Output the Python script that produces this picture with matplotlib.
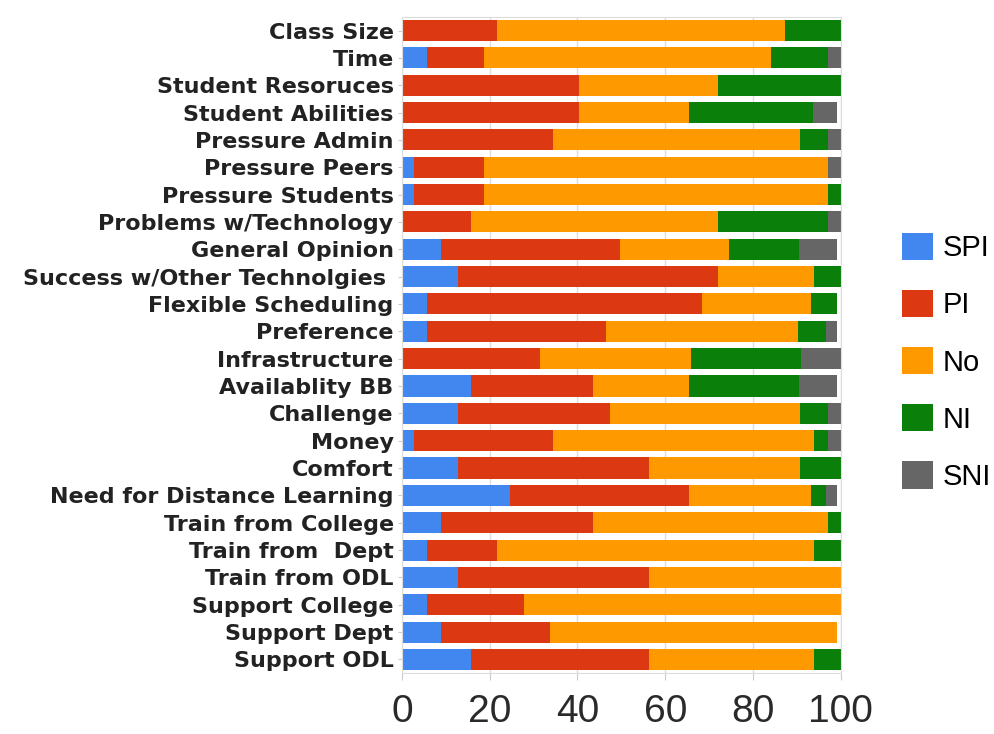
import numpy as np
import matplotlib
matplotlib.use("Agg")
from matplotlib import pyplot as plt

# survey items, top to bottom
items = ["Class Size", "Time", "Student Resoruces", "Student Abilities",
         "Pressure Admin", "Pressure Peers", "Pressure Students",
         "Problems w/Technology", "General Opinion",
         "Success w/Other Technolgies ", "Flexible Scheduling", "Preference",
         "Infrastructure", "Availablity BB", "Challenge", "Money", "Comfort",
         "Need for Distance Learning", "Train from College",
         "Train from  Dept", "Train from ODL", "Support College",
         "Support Dept", "Support ODL"]

# percent of responses per answer
spi = [0, 5.8, 0, 0, 0, 2.8, 2.8, 0, 9.0, 12.7, 5.7, 5.7,
       0, 15.7, 12.8, 2.8, 12.8, 24.6, 8.9, 5.7, 12.8, 5.7, 8.9, 15.7]
pi = [21.7, 12.9, 40.4, 40.4, 34.5, 15.9, 15.9, 15.7, 40.6, 59.4, 62.6, 40.9,
      31.4, 27.9, 34.5, 31.7, 43.4, 40.9, 34.7, 16.0, 43.4, 22.0, 24.8, 40.5]
no = [65.7, 65.5, 31.7, 24.9, 56.3, 78.3, 78.3, 56.3, 25.0, 21.8, 25.0, 43.7,
      34.5, 21.9, 43.5, 59.4, 34.6, 27.7, 53.4, 72.2, 43.8, 72.3, 65.5, 37.7]
ni = [12.6, 12.8, 27.9, 28.3, 6.2, 0, 3.0, 25.0, 15.9, 6.1, 5.9, 6.3,
      25.0, 25.0, 6.2, 3.1, 9.2, 3.4, 3.0, 6.1, 0, 0, 0, 6.1]
sni = [0, 3.0, 0, 5.6, 3.0, 3.0, 0, 3.0, 8.7, 0, 0, 2.6,
       9.1, 8.7, 3.0, 3.0, 0, 2.6, 0, 0, 0, 0, 0, 0]

series = [("SPI", spi, "#4287ef"), ("PI", pi, "#dc3912"),
          ("No", no, "#ff9900"), ("NI", ni, "#0a7f0a"),
          ("SNI", sni, "#666666")]

fig = plt.figure(figsize=(9.95, 7.34), dpi=100)
ax = fig.add_axes([0.404, 0.083, 0.441, 0.894])

y = np.arange(len(items))
left = np.zeros(len(items))
for name, vals, col in series:
    vals = np.array(vals)
    ax.barh(y, vals, left=left, height=0.77, color=col, label=name, zorder=2)
    left += vals

ax.set_ylim(len(items) - 0.5, -0.5)
ax.set_xlim(0, 100)
ax.set_xticks([0, 20, 40, 60, 80, 100])
ax.set_yticks(y)
ax.set_yticklabels(items, fontsize=16, fontweight="bold", color="#222222",
                   family="DejaVu Sans")
ax.tick_params(axis="x", labelsize=28, colors="#cccccc", labelcolor="#2a2a2a",
               length=5, pad=10)
ax.tick_params(axis="y", length=3, colors="#cccccc", labelcolor="#222222", pad=3)
for lab in ax.get_xticklabels():
    lab.set_family("Liberation Sans")

ax.grid(axis="x", color="#dddddd", lw=1, zorder=0)
for s in ax.spines.values():
    s.set_color("#dddddd")

ax.legend(loc="center left", bbox_to_anchor=(0.892, 0.507),
          bbox_transform=fig.transFigure, frameon=False,
          prop={"family": "Liberation Sans", "size": 21},
          handlelength=1.05, handleheight=1.05, handletextpad=0.35,
          labelspacing=0.95, borderpad=0)

fig.savefig("out.png", dpi=100)
